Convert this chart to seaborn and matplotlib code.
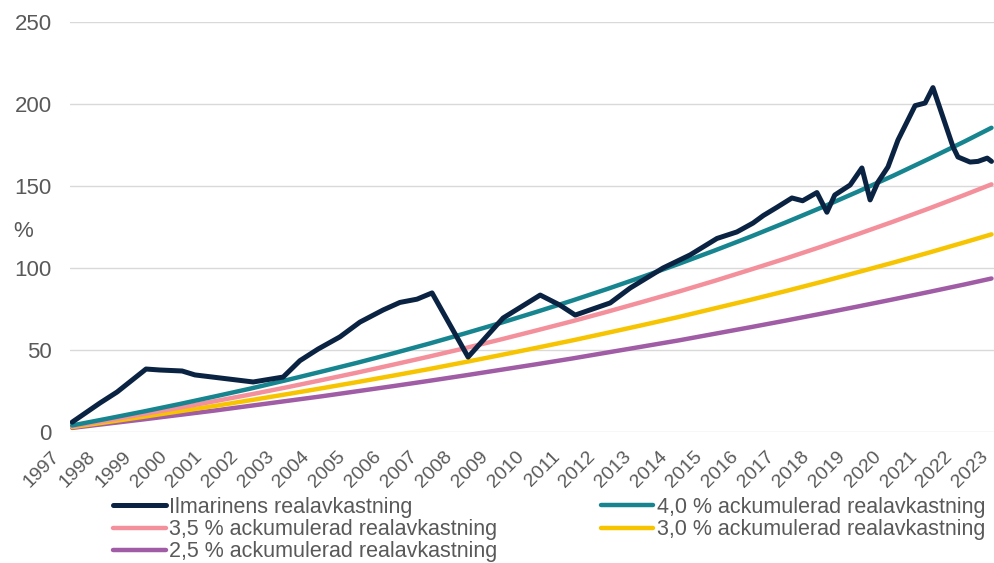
import pandas as pd
import matplotlib.pyplot as plt
import seaborn as sns

ilm_year = [1997.34, 1998.12, 1998.6, 1999.41, 1999.8, 2000.42, 2000.78, 2002.41, 2003.25,
            2003.72, 2004.23, 2004.84, 2005.4, 2006.05, 2006.52, 2007.0, 2007.42, 2008.43,
            2009.41, 2010.45, 2011.0, 2011.43, 2012.41, 2012.97, 2013.89, 2014.65, 2015.4,
            2015.96, 2016.41, 2016.7, 2017.08, 2017.5, 2017.8, 2018.2, 2018.48, 2018.7,
            2019.13, 2019.46, 2019.69, 2019.91, 2020.19, 2020.47, 2020.95, 2021.23, 2021.45,
            2022.01, 2022.15, 2022.49, 2022.71, 2022.97, 2023.09]
ilm_value = [6, 17.7, 24.4, 38.4, 37.8, 37.2, 34.8, 30.5, 33.5,
             43.5, 50.6, 58, 67, 74.4, 79, 81, 84.8, 45.7,
             69.5, 83.5, 77.4, 71.3, 78.7, 87.8, 100, 108, 118,
             122, 127.4, 132, 137, 142.7, 141, 146, 134, 144.5,
             150.6, 161, 141.5, 152.4, 161.6, 178, 199, 200.6, 210,
             174, 167.7, 164.6, 165, 167, 165]

# accumulated reference returns (annual points)
ref_year = [1997.34, 1998.34, 1999.34, 2000.34, 2001.34, 2002.34, 2003.34, 2004.34, 2005.34,
            2006.34, 2007.34, 2008.34, 2009.34, 2010.34, 2011.34, 2012.34, 2013.34, 2014.34,
            2015.34, 2016.34, 2017.34, 2018.34, 2019.34, 2020.34, 2021.34, 2022.34, 2023.09]
acc_40 = [4.0, 8.2, 12.5, 17.0, 21.7, 26.5, 31.6, 36.9, 42.3, 48.0, 53.9, 60.1, 66.5, 73.2,
          80.1, 87.3, 94.8, 102.6, 110.7, 119.1, 127.9, 137.0, 146.5, 156.3, 166.6, 177.2, 185.5]
acc_35 = [3.5, 7.1, 10.9, 14.8, 18.8, 22.9, 27.2, 31.7, 36.3, 41.1, 46.0, 51.1, 56.4, 61.9,
          67.5, 73.4, 79.5, 85.7, 92.2, 99.0, 105.9, 113.1, 120.6, 128.3, 136.3, 144.6, 151.0]
acc_30 = [3.0, 6.1, 9.3, 12.6, 15.9, 19.4, 23.0, 26.7, 30.5, 34.4, 38.4, 42.6, 46.9, 51.3,
          55.8, 60.5, 65.3, 70.2, 75.4, 80.6, 86.0, 91.6, 97.4, 103.3, 109.4, 115.7, 120.5]
acc_25 = [2.5, 5.1, 7.7, 10.4, 13.1, 16.0, 18.9, 21.8, 24.9, 28.0, 31.2, 34.5, 37.9, 41.3,
          44.8, 48.5, 52.2, 55.9, 59.9, 63.9, 68.0, 72.2, 76.5, 80.9, 85.4, 90.0, 93.6]

tick_years = list(range(1997, 2024))
y_ticks = [0, 50, 100, 150, 200, 250]

labels = ["Ilmarinens realavkastning",
          "4,0 % ackumulerad realavkastning",
          "3,5 % ackumulerad realavkastning",
          "3,0 % ackumulerad realavkastning",
          "2,5 % ackumulerad realavkastning"]
colors = ["#0B2342", "#17858F", "#F4909B", "#F6C400", "#A05DA5"]

frames = [pd.DataFrame({"year": ilm_year, "value": ilm_value, "series": labels[0]})]
for lab, vals in zip(labels[1:], [acc_40, acc_35, acc_30, acc_25]):
    frames.append(pd.DataFrame({"year": ref_year, "value": vals, "series": lab}))
df = pd.concat(frames, ignore_index=True)

sns.set_theme(style="white")
plt.rcParams["font.family"] = ["Liberation Sans", "DejaVu Sans"]
grey = "#595959"

fig = plt.figure(figsize=(9.94, 5.63), dpi=100)
ax = fig.add_axes([70 / 994, 1 - 432 / 563, 924 / 994, 410 / 563])

# draw the reference lines first, Ilmarinen on top
for lab, col in list(zip(labels, colors))[::-1]:
    sub = df[df["series"] == lab]
    lw = 3.6 if lab == labels[0] else 3.2
    sns.lineplot(data=sub, x="year", y="value", color=col, linewidth=lw,
                 label=lab, ax=ax, sort=False)

ax.set_xlim(1997.28, 2023.16)
ax.set_ylim(0, 250)
ax.set_yticks(y_ticks)
ax.yaxis.grid(True, color="#D9D9D9", linewidth=1.0)
ax.xaxis.grid(False)
for s in ax.spines.values():
    s.set_visible(False)
ax.tick_params(axis="y", length=0, pad=13, labelsize=16, labelcolor=grey)
ax.set_xticks([])
ax.set_xlabel("")
ax.set_ylabel("%", rotation=0, fontsize=16, color=grey, va="center")
ax.yaxis.set_label_coords(-0.051, 0.49)

for yr in tick_years:
    ax.annotate(str(yr), xy=(yr, 0), xycoords=("data", "axes fraction"),
                xytext=(-2, -16), textcoords="offset points", rotation=45,
                ha="right", va="center", rotation_mode="anchor",
                fontsize=14, color=grey, annotation_clip=False)

handles, labs = ax.get_legend_handles_labels()
lookup = dict(zip(labs, handles))
order = [labels[0], labels[2], labels[4], labels[1], labels[3]]
ax.legend([lookup[l] for l in order], order, ncol=2, frameon=False,
          loc="upper left", bbox_to_anchor=(113 / 994, 1 - 497 / 563),
          bbox_transform=fig.transFigure, borderaxespad=0, borderpad=0,
          fontsize=15.5, labelcolor=grey, handlelength=2.45, handletextpad=0.15,
          columnspacing=4.8, labelspacing=0.05)

fig.savefig("out.png", dpi=100)
